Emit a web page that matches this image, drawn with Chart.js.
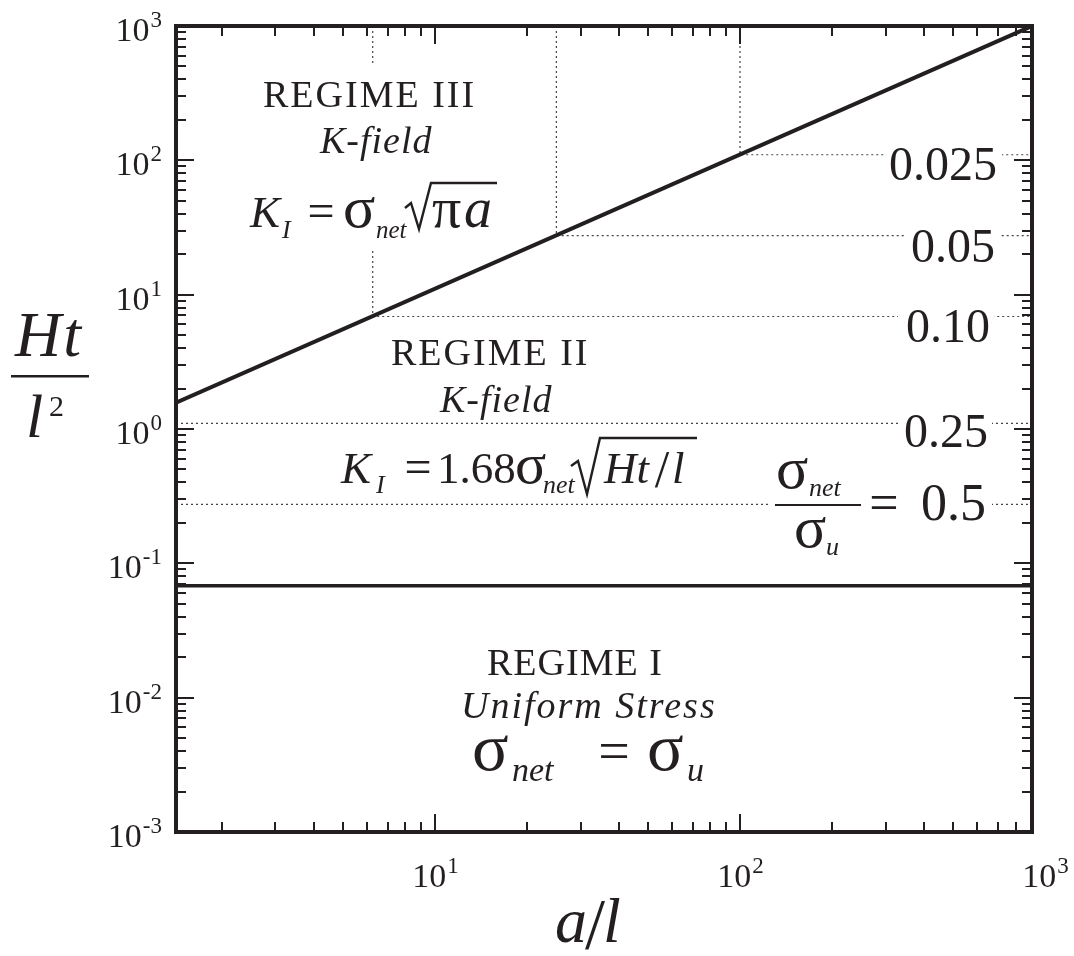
<!DOCTYPE html>
<html><head><meta charset="utf-8">
<script src="https://cdn.jsdelivr.net/npm/chart.js@4.4.1/dist/chart.umd.min.js"></script>
<style>html,body{margin:0;padding:0;background:#fff;}canvas{display:block;}</style>
</head><body>
<canvas id="c" width="1074" height="956"></canvas>
<script>
// ---- data ----
const xRange = [1.416, 906];          // a/l axis limits
const yRange = [0.001, 1000];         // Ht/l^2 axis limits
const regimeIII_x = [1.416, 906];     // Regime II / III boundary
const regimeIII_y = [1.57, 1000];
const regimeI_x = [1.416, 906];       // Regime I / II boundary
const regimeI_y = [0.068, 0.068];
const ratioLabels = ['0.025', '0.05', '0.10', '0.25', '0.5'];  // sigma_net / sigma_u
const ratioY = [110, 27.5, 6.88, 1.10, 0.275];
const ratioX = [100, 25, 6.25, 1.416, 1.416];                    // start of each dotted contour
const ratioVertical = [true, true, true, false, false];
const xTickExponents = [1, 2, 3];
const yTickExponents = [-3, -2, -1, 0, 1, 2, 3];

const INK = '#231f20';
const SERIF = '"Liberation Serif","DejaVu Serif",serif';

const datasets = [];
datasets.push({
  data: regimeIII_x.map((x, i) => ({x, y: regimeIII_y[i]})),
  borderColor: INK, borderWidth: 4, showLine: true, pointRadius: 0
});
datasets.push({
  data: regimeI_x.map((x, i) => ({x, y: regimeI_y[i]})),
  borderColor: INK, borderWidth: 3.5, showLine: true, pointRadius: 0
});
ratioY.forEach((y, i) => {
  const pts = [];
  if (ratioVertical[i]) pts.push({x: ratioX[i], y: yRange[1]});
  pts.push({x: ratioX[i], y});
  pts.push({x: xRange[1], y});
  datasets.push({
    data: pts, borderColor: '#444', borderWidth: 1.2, borderDash: [2, 3],
    showLine: true, pointRadius: 0, tension: 0
  });
});

function t(ctx, s, x, y, size, italic, align, spacing) {
  ctx.font = (italic ? 'italic ' : '') + size + 'px ' + SERIF;
  ctx.textAlign = align || 'left';
  ctx.textBaseline = 'alphabetic';
  ctx.letterSpacing = (spacing || 0) + 'px';
  ctx.fillText(s, x, y);
  const w = ctx.measureText(s).width;
  ctx.letterSpacing = '0px';
  return w;
}
function white(ctx, x, y, w, h) { ctx.save(); ctx.fillStyle = '#fff'; ctx.fillRect(x, y, w, h); ctx.restore(); }
function radical(ctx, pts) {
  ctx.save(); ctx.strokeStyle = INK; ctx.lineWidth = 2.4; ctx.lineJoin = 'miter';
  ctx.beginPath(); ctx.moveTo(pts[0][0], pts[0][1]);
  for (let i = 1; i < pts.length; i++) ctx.lineTo(pts[i][0], pts[i][1]);
  ctx.stroke(); ctx.restore();
}

const decor = {
  id: 'decor',
  afterDatasetsDraw(chart) {
    const ctx = chart.ctx, xs = chart.scales.x, ys = chart.scales.y, a = chart.chartArea;
    ctx.save();
    ctx.fillStyle = INK;

    // ---- white knock-out boxes ----
    white(ctx, 245, 66, 262, 184);
    white(ctx, 884, 143, 118, 42);
    white(ctx, 906, 226, 94, 40);
    white(ctx, 898, 306, 96, 40);
    white(ctx, 900, 412, 92, 40);
    white(ctx, 770, 496, 222, 18);

    // ---- Regime III ----
    t(ctx, 'REGIME III', 263, 107, 38, false, 'left', 2);
    t(ctx, 'K-field', 320, 153, 38, true, 'left', 1);
    t(ctx, 'K', 250, 227, 45, true);
    t(ctx, 'I', 282, 238, 26, true);
    t(ctx, '=', 321, 227, 48, false, 'center');
    t(ctx, 'σ', 343, 227, 60, false);
    t(ctx, 'net', 376, 238, 25, true);
    radical(ctx, [[405, 208], [411, 203], [419, 229], [431, 183], [497, 183]]);
    t(ctx, 'π', 432, 227, 58, false);
    t(ctx, 'a', 464, 227, 56, true);

    // ---- Regime II ----
    t(ctx, 'REGIME II', 391, 365, 38, false, 'left', 2);
    t(ctx, 'K-field', 440, 412, 38, true, 'left', 1);
    t(ctx, 'K', 341, 483, 45, true);
    t(ctx, 'I', 376, 493, 26, true);
    t(ctx, '=', 418, 483, 48, false, 'center');
    t(ctx, '1.68', 437, 483, 45, false);
    t(ctx, 'σ', 515, 483, 58, false);
    t(ctx, 'net', 543, 493, 26, true);
    radical(ctx, [[571, 466], [578, 461], [587, 494], [600, 438], [697, 438]]);
    t(ctx, 'Ht', 604, 483, 45, true);
    t(ctx, '/', 662, 487, 52, false, 'center');
    t(ctx, 'l', 672, 483, 45, true);

    // ---- Regime I ----
    t(ctx, 'REGIME I', 487, 675, 38, false, 'left', 1);
    t(ctx, 'Uniform Stress', 461, 718, 38, true, 'left', 2);
    t(ctx, 'σ', 472, 770, 68, false);
    t(ctx, 'net', 512, 781, 34, true);
    t(ctx, '=', 614, 770, 56, false, 'center');
    t(ctx, 'σ', 647, 770, 68, false);
    t(ctx, 'u', 687, 781, 34, true);

    // ---- sigma ratio labels ----
    t(ctx, ratioLabels[0], 997, 180, 48, false, 'right');
    t(ctx, ratioLabels[1], 995, 262, 48, false, 'right');
    t(ctx, ratioLabels[2], 990, 342, 48, false, 'right');
    t(ctx, ratioLabels[3], 988, 447, 48, false, 'right');
    t(ctx, 'σ', 776, 488, 60, false);
    t(ctx, 'net', 809, 496, 26, true);
    ctx.fillRect(775, 504, 86, 2);
    t(ctx, 'σ', 794, 547, 60, false);
    t(ctx, 'u', 826, 555, 26, true);
    t(ctx, '=', 884, 520, 52, false, 'center');
    t(ctx, ratioLabels[4], 986, 520, 52, false, 'right');

    // ---- frame & inward ticks ----
    ctx.strokeStyle = INK;
    ctx.lineWidth = 2;
    ctx.beginPath();
    for (let e = -3; e < 3; e++) for (let m = 1; m <= 9; m++) {
      const v = m * Math.pow(10, e);
      if (v < yRange[0] || v > yRange[1]) continue;
      const py = Math.round(ys.getPixelForValue(v));
      const len = m === 1 ? 18 : 10;
      ctx.moveTo(a.left, py); ctx.lineTo(a.left + len, py);
      ctx.moveTo(a.right, py); ctx.lineTo(a.right - len, py);
    }
    for (let e = 0; e < 3; e++) for (let m = 1; m <= 9; m++) {
      const v = m * Math.pow(10, e);
      if (v < xRange[0] || v > xRange[1]) continue;
      const px = Math.round(xs.getPixelForValue(v));
      const len = m === 1 ? 18 : 10;
      ctx.moveTo(px, a.bottom); ctx.lineTo(px, a.bottom - len);
      ctx.moveTo(px, a.top); ctx.lineTo(px, a.top + len);
    }
    ctx.stroke();
    ctx.lineWidth = 4;
    ctx.strokeRect(a.left, a.top, a.right - a.left, a.bottom - a.top);

    // ---- tick labels ----
    xTickExponents.forEach(e => {
      const px = xs.getPixelForValue(Math.pow(10, e));
      ctx.font = '34px ' + SERIF; const w1 = ctx.measureText('10').width;
      ctx.font = '23px ' + SERIF; const w2 = ctx.measureText(String(e)).width;
      const x0 = px - (w1 + w2) / 2;
      t(ctx, '10', x0, 887, 34, false);
      t(ctx, String(e), x0 + w1 + 1, 873, 23, false);
    });
    yTickExponents.forEach(e => {
      const py = ys.getPixelForValue(Math.pow(10, e));
      const sup = e < 0 ? '-' + Math.abs(e) : String(e);
      ctx.font = '23px ' + SERIF; const w2 = ctx.measureText(sup).width;
      t(ctx, sup, 162, py + 1, 23, false, 'right');
      t(ctx, '10', 162 - w2 - 1, py + 15, 34, false, 'right');
    });

    // ---- axis titles ----
    t(ctx, 'Ht', 15, 356, 64, true, 'left', 2);
    ctx.fillRect(11, 375, 78, 2.5);
    t(ctx, 'l', 26, 437, 62, true);
    t(ctx, '2', 49, 416, 30, false);
    t(ctx, 'a', 555, 942, 64, true);
    t(ctx, '/', 595, 948, 72, false, 'center');
    t(ctx, 'l', 603, 942, 64, true);

    ctx.restore();
  }
};

new Chart(document.getElementById('c'), {
  type: 'scatter',
  data: { datasets },
  options: {
    responsive: false, animation: false, devicePixelRatio: 1,
    layout: { padding: { left: 176, right: 42, top: 26, bottom: 124 } },
    plugins: { legend: { display: false }, tooltip: { enabled: false } },
    scales: {
      x: { type: 'logarithmic', min: xRange[0], max: xRange[1], display: false },
      y: { type: 'logarithmic', min: yRange[0], max: yRange[1], display: false }
    }
  },
  plugins: [decor]
});
</script>
</body></html>
